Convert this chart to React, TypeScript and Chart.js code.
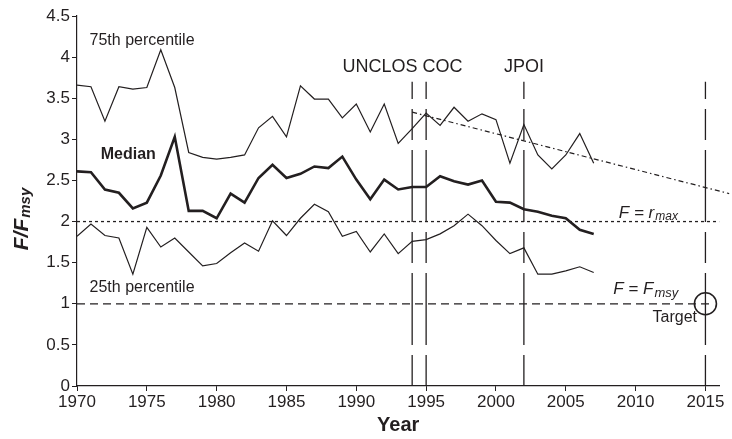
import { useEffect, useRef } from "react";
import { Chart, registerables } from "chart.js";

Chart.register(...registerables);

const years = [
  1970, 1971, 1972, 1973, 1974, 1975, 1976, 1977, 1978, 1979,
  1980, 1981, 1982, 1983, 1984, 1985, 1986, 1987, 1988, 1989,
  1990, 1991, 1992, 1993, 1994, 1995, 1996, 1997, 1998, 1999,
  2000, 2001, 2002, 2003, 2004, 2005, 2006, 2007,
];
const p75 = [
  3.66, 3.64, 3.22, 3.64, 3.61, 3.63, 4.09, 3.63, 2.84, 2.78,
  2.76, 2.78, 2.81, 3.14, 3.28, 3.03, 3.65, 3.49, 3.49, 3.26,
  3.43, 3.09, 3.43, 2.95, 3.13, 3.32, 3.17, 3.39, 3.22, 3.31,
  3.24, 2.71, 3.18, 2.81, 2.64, 2.81, 3.07, 2.71,
];
const median = [
  2.61, 2.6, 2.39, 2.35, 2.16, 2.23, 2.56, 3.03, 2.13, 2.13,
  2.04, 2.34, 2.23, 2.53, 2.69, 2.53, 2.58, 2.67, 2.65, 2.79,
  2.51, 2.27, 2.51, 2.39, 2.42, 2.42, 2.55, 2.49, 2.45, 2.5,
  2.24, 2.23, 2.15, 2.12, 2.07, 2.04, 1.9, 1.85,
];
const p25 = [
  1.82, 1.97, 1.83, 1.8, 1.36, 1.93, 1.69, 1.8, 1.63, 1.46,
  1.49, 1.62, 1.74, 1.64, 2.01, 1.83, 2.04, 2.21, 2.12, 1.82,
  1.88, 1.63, 1.85, 1.61, 1.76, 1.78, 1.85, 1.95, 2.09, 1.95,
  1.77, 1.61, 1.68, 1.36, 1.36, 1.4, 1.45, 1.38,
];
const xTicks = [1970, 1975, 1980, 1985, 1990, 1995, 2000, 2005, 2010, 2015];
const yTicks = [0, 0.5, 1, 1.5, 2, 2.5, 3, 3.5, 4, 4.5];
const eventYears = [1994, 1995, 2002, 2015];
const eventTop = 3.7;
const rMaxLevel = 2;
const fMsyLevel = 1;
const trendX = [1994, 2016.7];
const trendY = [3.33, 2.34];
const targetX = 2015;
const targetY = 1;

const INK = "#231f20";
const FONT = "'Liberation Sans', Arial, Helvetica, sans-serif";

function drawSub(
  ctx: CanvasRenderingContext2D,
  x: number,
  y: number,
  main: string,
  sub: string,
  mainFont: string,
  subFont: string,
  drop: number
) {
  ctx.font = mainFont;
  ctx.fillText(main, x, y);
  const w = ctx.measureText(main).width;
  ctx.font = subFont;
  ctx.fillText(sub, x + w + 1, y + drop);
}

const textPlugin = {
  id: "texts",
  afterDatasetsDraw(chart: any) {
    const ctx: CanvasRenderingContext2D = chart.ctx;
    const xs = chart.scales.x;
    const ys = chart.scales.y;
    const ca = chart.chartArea;
    ctx.save();
    ctx.fillStyle = INK;

    ctx.textBaseline = "middle";
    ctx.textAlign = "left";
    ctx.font = `16px ${FONT}`;
    ctx.fillText("75th percentile", xs.getPixelForValue(1970.9), ys.getPixelForValue(4.2));
    ctx.fillText("25th percentile", xs.getPixelForValue(1970.9), ys.getPixelForValue(1.2));
    ctx.font = `bold 16px ${FONT}`;
    ctx.fillText("Median", xs.getPixelForValue(1971.7), ys.getPixelForValue(2.81));

    ctx.textAlign = "center";
    ctx.font = `18px ${FONT}`;
    ctx.fillText("UNCLOS COC", xs.getPixelForValue(1993.3), ys.getPixelForValue(3.88));
    ctx.fillText("JPOI", xs.getPixelForValue(2002), ys.getPixelForValue(3.88));

    ctx.textAlign = "right";
    ctx.font = `16px ${FONT}`;
    ctx.fillText("Target", xs.getPixelForValue(2014.4), ys.getPixelForValue(0.83));

    ctx.textAlign = "left";
    ctx.textBaseline = "alphabetic";
    drawSub(
      ctx,
      xs.getPixelForValue(2008.8),
      ys.getPixelForValue(2.04),
      "F = r",
      "max",
      `italic 17px ${FONT}`,
      `italic 12px ${FONT}`,
      2
    );
    drawSub(
      ctx,
      xs.getPixelForValue(2008.4),
      ys.getPixelForValue(1.12),
      "F = F",
      "msy",
      `italic 17px ${FONT}`,
      `italic 13px ${FONT}`,
      3
    );

    // Axis titles
    ctx.textAlign = "center";
    ctx.textBaseline = "middle";
    ctx.font = `bold 20px ${FONT}`;
    ctx.fillText("Year", (ca.left + ca.right) / 2, 425);

    ctx.save();
    ctx.translate(22, 219);
    ctx.rotate(-Math.PI / 2);
    ctx.textAlign = "left";
    ctx.textBaseline = "middle";
    const mainF = `italic bold 21px ${FONT}`;
    const subF = `italic bold 15px ${FONT}`;
    ctx.font = mainF;
    const w1 = ctx.measureText("F/F").width;
    ctx.font = subF;
    const w2 = ctx.measureText("msy").width;
    const start = -(w1 + w2 + 1) / 2;
    ctx.font = mainF;
    ctx.fillText("F/F", start, 0);
    ctx.font = subF;
    ctx.fillText("msy", start + w1 + 1, 4);
    ctx.restore();

    ctx.restore();
  },
};

export default function App() {
  const ref = useRef<HTMLCanvasElement | null>(null);

  useEffect(() => {
    if (!ref.current) return;
    const series = (vals: number[]) => years.map((x, i) => ({ x, y: vals[i] }));
    const base = {
      showLine: true,
      pointRadius: 0,
      pointHoverRadius: 0,
      tension: 0,
      borderColor: INK,
      backgroundColor: INK,
      fill: false,
    };
    const datasets: any[] = [
      { ...base, label: "75th percentile", data: series(p75), borderWidth: 1.2 },
      { ...base, label: "Median", data: series(median), borderWidth: 2.6 },
      { ...base, label: "25th percentile", data: series(p25), borderWidth: 1.2 },
      ...eventYears.map((yr) => ({
        ...base,
        label: `event ${yr}`,
        data: [
          { x: yr, y: 0 },
          { x: yr, y: eventTop },
        ],
        borderWidth: 1.3,
        borderDash: [31, 10, 72, 10],
      })),
      {
        ...base,
        label: "rmax",
        data: [
          { x: 1970, y: rMaxLevel },
          { x: 2016, y: rMaxLevel },
        ],
        borderWidth: 1.3,
        borderDash: [3, 3],
      },
      {
        ...base,
        label: "fmsy",
        data: [
          { x: 1970, y: fMsyLevel },
          { x: 2015.5, y: fMsyLevel },
        ],
        borderWidth: 1.3,
        borderDash: [8, 5],
      },
      {
        ...base,
        label: "trend",
        data: trendX.map((x, i) => ({ x, y: trendY[i] })),
        borderWidth: 1.2,
        borderDash: [5, 3, 1.5, 3],
        clip: false,
      },
      {
        label: "target",
        data: [{ x: targetX, y: targetY }],
        showLine: false,
        pointRadius: 11,
        pointHoverRadius: 11,
        pointStyle: "circle",
        pointBorderWidth: 1.6,
        borderColor: INK,
        backgroundColor: "rgba(0,0,0,0)",
        clip: false,
      },
    ];

    const chart = new Chart(ref.current, {
      type: "scatter",
      data: { datasets },
      options: {
        animation: false,
        responsive: true,
        maintainAspectRatio: false,
        events: [],
        layout: { padding: { top: 16, right: 10, left: 0, bottom: 0 } },
        plugins: {
          legend: { display: false },
          tooltip: { enabled: false },
        },
        scales: {
          x: {
            type: "linear",
            min: 1970,
            max: 2016,
            afterBuildTicks: (axis: any) => {
              axis.ticks = xTicks.map((v) => ({ value: v }));
            },
            afterFit: (scale: any) => {
              scale.height = 53;
            },
            grid: {
              display: true,
              drawOnChartArea: false,
              drawTicks: true,
              tickLength: 5,
              color: INK,
              lineWidth: 1,
            },
            border: { display: true, color: INK, width: 1.2 },
            ticks: {
              color: INK,
              font: { family: FONT, size: 17 },
              padding: 1,
              maxRotation: 0,
              autoSkip: false,
              callback: (v: any) => String(v),
            },
          },
          y: {
            type: "linear",
            min: 0,
            max: 4.5,
            afterBuildTicks: (axis: any) => {
              axis.ticks = yTicks.map((v) => ({ value: v }));
            },
            afterFit: (scale: any) => {
              scale.width = 77;
            },
            grid: {
              display: true,
              drawOnChartArea: false,
              drawTicks: true,
              tickLength: 5,
              color: INK,
              lineWidth: 1,
            },
            border: { display: true, color: INK, width: 1.2 },
            ticks: {
              color: INK,
              font: { family: FONT, size: 17 },
              padding: 2,
              autoSkip: false,
              callback: (v: any) => String(v),
            },
          },
        },
      },
      plugins: [textPlugin],
    });
    return () => chart.destroy();
  }, []);

  return (
    <div
      style={{
        position: "fixed",
        left: 0,
        top: 0,
        width: 732,
        height: 439,
        background: "#fff",
      }}
    >
      <canvas ref={ref} />
    </div>
  );
}
